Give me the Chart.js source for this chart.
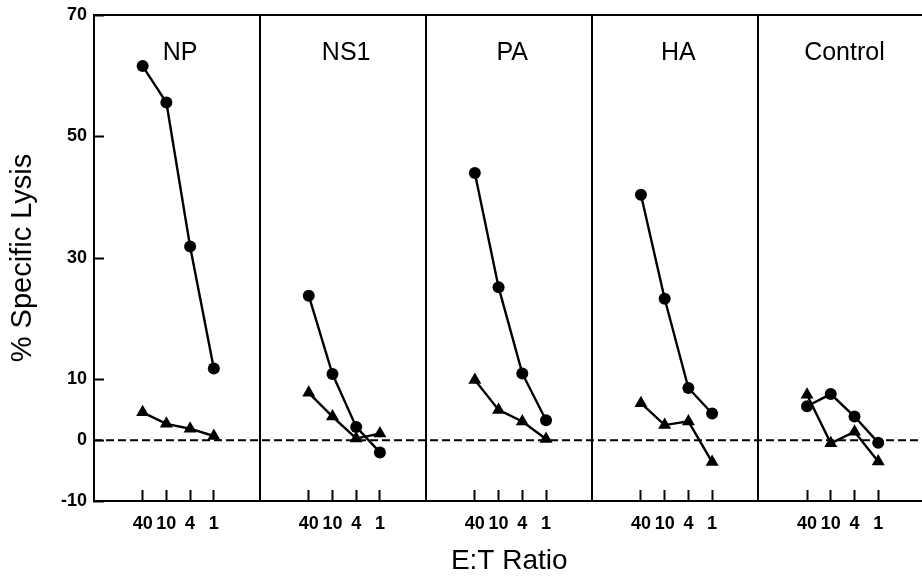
<!DOCTYPE html>
<html lang="en">
<head>
<meta charset="UTF-8" />
<title>% Specific Lysis by E:T Ratio</title>
<script src="https://cdn.jsdelivr.net/npm/chart.js"></script>
<style>
  html, body { margin: 0; padding: 0; background: #fff; overflow: hidden; }
  #wrap { width: 932px; height: 578px; }
</style>
</head>
<body>
<div id="wrap"><canvas id="lysisChart"></canvas></div>

<script>
  // panels and E:T ratios
  const panels = ['NP', 'NS1', 'PA', 'HA', 'Control'];
  const ratios = ['40', '10', '4', '1'];

  // % specific lysis, one row per panel (circles and triangles)
  const circleLysis = [
    [61.6, 55.6, 31.9, 11.8],
    [23.8, 10.9, 2.2, -2.0],
    [44.0, 25.2, 11.0, 3.3],
    [40.4, 23.3, 8.6, 4.4],
    [5.6, 7.6, 3.9, -0.4]
  ];
  const triangleLysis = [
    [4.6, 2.7, 1.9, 0.7],
    [7.8, 3.9, 0.3, 1.1],
    [9.9, 5.0, 3.1, 0.2],
    [6.1, 2.5, 3.1, -3.6],
    [7.5, -0.5, 1.4, -3.5]
  ];
  const yTicks = [-10, 0, 10, 30, 50, 70];

  // layout of x positions inside each panel
  const slots = 7;      // x units per panel
  const firstSlot = 2.05;
  const xOf = (p, i) => p * slots + firstSlot + i;
  const xMax = panels.length * slots;

  const font = "'Liberation Sans', Arial, Helvetica, sans-serif";

  const datasets = [];
  panels.forEach((name, p) => {
    datasets.push({
      data: ratios.map((r, i) => ({ x: xOf(p, i), y: circleLysis[p][i] })),
      borderColor: '#000', backgroundColor: '#000', borderWidth: 2.4,
      pointStyle: 'circle', pointRadius: 6, pointBorderWidth: 0
    });
    datasets.push({
      data: ratios.map((r, i) => ({ x: xOf(p, i), y: triangleLysis[p][i] })),
      borderColor: '#000', backgroundColor: '#000', borderWidth: 2.4,
      pointStyle: 'triangle', pointRadius: 7.5, pointBorderWidth: 0
    });
  });
  // dashed zero line
  datasets.push({
    data: [{ x: 0, y: 0 }, { x: xMax, y: 0 }],
    borderColor: '#000', borderWidth: 2, borderDash: [8, 4],
    pointRadius: 0
  });

  // panel names at the top of each panel
  const panelTitles = {
    id: 'panelTitles',
    afterDatasetsDraw(chart) {
      const ctx = chart.ctx;
      const x = chart.scales.x;
      ctx.save();
      ctx.fillStyle = '#000';
      ctx.font = '25px ' + font;
      ctx.textAlign = 'center';
      ctx.textBaseline = 'middle';
      panels.forEach((name, p) => {
        const cx = x.getPixelForValue(p * slots + slots / 2) + 3;
        ctx.fillText(name, cx, 53);
      });
      ctx.restore();
    }
  };

  new Chart(document.getElementById('lysisChart').getContext('2d'), {
    type: 'line',
    data: { datasets },
    options: {
      responsive: true,
      maintainAspectRatio: false,
      animation: false,
      layout: { padding: { top: 15, right: 4.5, left: 0, bottom: 0 } },
      plugins: { legend: { display: false }, tooltip: { enabled: false } },
      scales: {
        x: {
          type: 'linear', min: 0, max: xMax,
          afterBuildTicks: s => {
            const t = [];
            panels.forEach((n, p) => ratios.forEach((r, i) => t.push({ value: xOf(p, i) })));
            s.ticks = t;
          },
          afterFit: s => { s.height = 77; s.paddingLeft = 0; s.paddingRight = 0; },
          ticks: {
            autoSkip: false, maxRotation: 0, padding: 23, color: '#000',
            font: { family: font, size: 18, weight: 'bold' },
            callback: v => {
              const i = Math.round(v - firstSlot) % slots;
              return ratios[i];
            }
          },
          grid: { drawOnChartArea: false, tickLength: -11, tickWidth: 2, tickColor: '#000' },
          border: { display: true, color: '#000', width: 2 },
          title: {
            display: true, text: 'E:T Ratio', color: '#000',
            font: { family: font, size: 28 }, padding: { top: 0, bottom: 0 }
          }
        },
        x2: {
          type: 'linear', axis: 'x', position: 'top', min: 0, max: xMax,
          afterBuildTicks: s => {
            s.ticks = panels.map((n, p) => ({ value: p * slots })).concat([{ value: xMax }]);
          },
          afterFit: s => { s.height = 0; s.paddingLeft = 0; s.paddingRight = 0; },
          ticks: { display: false },
          grid: { drawOnChartArea: true, drawTicks: false, color: '#000', lineWidth: 2 },
          border: { display: true, color: '#000', width: 2 }
        },
        y: {
          type: 'linear', min: -10, max: 70,
          afterBuildTicks: s => { s.ticks = yTicks.map(v => ({ value: v })); },
          afterFit: s => { s.width = 94; s.paddingTop = 0; s.paddingBottom = 0; },
          ticks: { padding: 17, color: '#000', font: { family: font, size: 18, weight: 'bold' } },
          grid: { drawOnChartArea: false, tickLength: -10, tickWidth: 2, tickColor: '#000' },
          border: { display: true, color: '#000', width: 2 },
          title: {
            display: true, text: '% Specific Lysis', color: '#000',
            font: { family: font, size: 29 }, padding: { top: 6, bottom: 0 }
          }
        }
      }
    },
    plugins: [panelTitles]
  });
</script>
</body>
</html>
